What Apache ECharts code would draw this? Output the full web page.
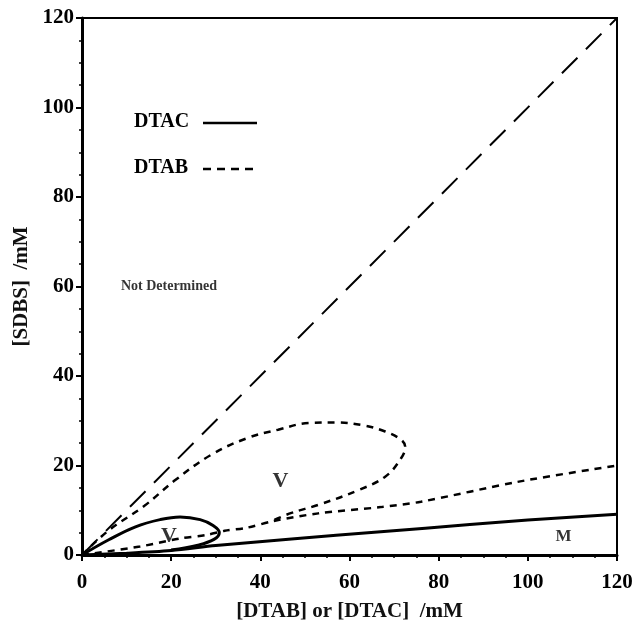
<!DOCTYPE html>
<html>
<head>
<meta charset="utf-8">
<script src="https://cdn.jsdelivr.net/npm/echarts@6/dist/echarts.min.js"></script>
<style>
  html, body { margin: 0; padding: 0; background: #fff; }
  #chart { width: 634px; height: 620px; }
</style>
</head>
<body>
<div id="chart"></div>
<script>
// equimolar line
const diagLine = [[0, 0], [120, 120]];
// DTAB: vesicle lobe and lower boundary
const dtabLobe = [[0, 0], [6, 5.5], [14, 11], [21, 16.8], [29, 22.4], [37, 26.1], [44, 28], [51, 29.5], [57, 29.6],
  [63, 29], [68, 27.6], [71.5, 25.8], [72.5, 24.2], [71.5, 21.5], [68, 17.5], [62, 14.5], [53, 11.2], [47, 9.4], [43, 7.8]];
const dtabLower = [[0, 0], [13, 1.9], [22, 3.7], [28, 4.5], [32, 5.4], [37, 6.1], [43, 7.6], [53, 9.3], [67, 10.7],
  [76, 11.9], [98, 16.4], [120, 20]];
// DTAC: vesicle loop and lower boundary
const dtacLoop = [[0, 0], [6, 3.4], [12, 6.3], [17.5, 7.9], [22, 8.5], [26.5, 7.9], [29.4, 6.6], [30.8, 5.0],
  [29.6, 3.5], [26, 2.2], [20, 1.1]];
const dtacLower = [[0, 0], [10, 0.4], [20, 1.0], [30, 2.1], [47, 3.6], [67, 5.2], [87, 6.8], [100, 7.8], [120, 9.1]];
// region labels
const regionLabels = [
  { value: [44.5, 16.5], text: 'V', size: 22 },
  { value: [19.5, 4.2], text: 'V', size: 22 },
  { value: [108, 4], text: 'M', size: 17 },
  { value: [19.5, 60], text: 'Not Determined', size: 14 }
];
const ticks = [0, 20, 40, 60, 80, 100, 120];

const font = 'Liberation Serif';
const chart = echarts.init(document.getElementById('chart'));

function axis(name, gap, rot) {
  return {
    type: 'value', min: ticks[0], max: ticks[ticks.length - 1], interval: 20,
    name: name, nameLocation: 'middle', nameGap: gap, nameRotate: rot,
    nameTextStyle: { fontFamily: font, fontSize: 21, fontWeight: 'bold', color: '#111' },
    axisLine: { show: true, lineStyle: { color: '#000', width: 3 } },
    axisTick: { show: true, inside: false, length: 6, lineStyle: { color: '#000', width: 2 } },
    minorTick: { show: true, splitNumber: 4, length: 3, lineStyle: { color: '#000', width: 1.5 } },
    splitLine: { show: false },
    axisLabel: { fontFamily: font, fontSize: 21, fontWeight: 'bold', color: '#000', margin: 8 }
  };
}

const xAxis = axis('[DTAB] or [DTAC]  /mM', 46, 0);
xAxis.axisLabel.margin = 17;
const yAxis = axis('[SDBS]  /mM', 47, 90);

// legend drawn by hand: text first, line sample after it
function legendItem(text, top, dash) {
  return [
    { type: 'text', left: 134, top: top, style: { text: text, font: 'bold 20px ' + font, fill: '#000' } },
    { type: 'line', shape: { x1: 203, y1: top + 11, x2: 257, y2: top + 11 },
      style: { stroke: '#000', lineWidth: 2.5, lineDash: dash } }
  ];
}

chart.setOption({
  animation: false,
  backgroundColor: '#fff',
  grid: { left: 82, right: 17, top: 18, bottom: 65, show: true, borderColor: '#000', borderWidth: 2,
    containLabel: false, outerBoundsMode: 'none' },
  graphic: legendItem('DTAC', 112, null).concat(legendItem('DTAB', 158, [8, 6])),
  xAxis: xAxis,
  yAxis: yAxis,
  series: [
    { name: 'diag', type: 'line', data: diagLine, symbol: 'none',
      lineStyle: { color: '#000', width: 2, type: [22, 12] } },
    { name: 'DTAB', type: 'line', data: dtabLobe, symbol: 'none', smooth: 0.4,
      lineStyle: { color: '#000', width: 2.5, type: [7, 6] } },
    { name: 'DTAB', type: 'line', data: dtabLower, symbol: 'none', smooth: 0.3,
      lineStyle: { color: '#000', width: 2.5, type: [7, 6] } },
    { name: 'DTAC', type: 'line', data: dtacLoop, symbol: 'none', smooth: 0.4,
      lineStyle: { color: '#000', width: 3 } },
    { name: 'DTAC', type: 'line', data: dtacLower, symbol: 'none', smooth: 0.3,
      lineStyle: { color: '#000', width: 3 } },
    { name: 'labels', type: 'scatter', symbolSize: 0, silent: true,
      data: regionLabels.map(d => ({
        value: d.value,
        label: { show: true, position: 'inside', formatter: d.text, fontFamily: font,
          fontWeight: 'bold', fontSize: d.size, color: '#000' }
      })) }
  ]
});
</script>
</body>
</html>
